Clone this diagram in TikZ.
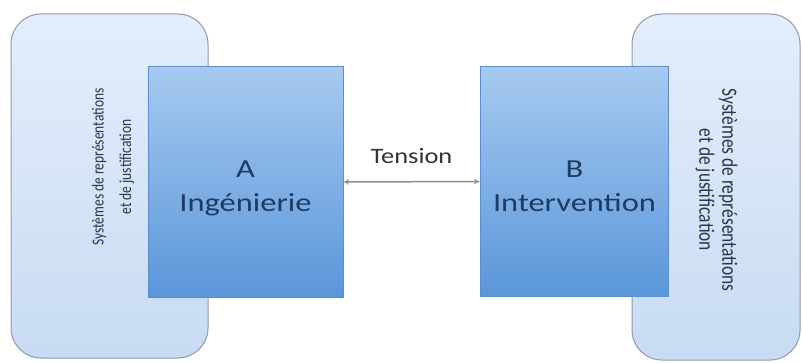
\documentclass[tikz,border=0pt]{standalone}
\usepackage{fontspec}
\setmainfont{Carlito}
\usetikzlibrary{arrows,calc}
\definecolor{systop}{HTML}{E4EEFB}
\definecolor{sysbottom}{HTML}{C8DBF3}
\definecolor{sysline}{HTML}{8C9BAE}
\definecolor{poletop}{HTML}{A6CAF1}
\definecolor{polebottom}{HTML}{5A96DA}
\definecolor{poleline}{HTML}{5A8ECF}
\definecolor{poleink}{HTML}{1E3B64}
\definecolor{sysink}{HTML}{2A3650}
\definecolor{arrowgrey}{HTML}{8E9096}
\begin{document}
\begin{tikzpicture}[x=1pt,y=-1pt,
    sysbox/.style={draw=sysline, line width=1pt, rounded corners=30pt, top color=systop, bottom color=sysbottom},
    polebox/.style={draw=poleline, line width=1pt, top color=poletop, bottom color=polebottom},
    poletext/.style={text=poleink, align=center, inner sep=0pt, xscale=1.25, font=\fontsize{26}{34}\selectfont},
    systext/.style={text=sysink, align=center, inner sep=0pt, xscale=1.25}]
    \fill[white] (0,0) rectangle (802,363);
    \useasboundingbox (0,0) rectangle (802,363);
    % cadres des systemes
    \node[sysbox, minimum width=197pt, minimum height=344pt] (SysA) at (109.5,186) {};
    \node[sysbox, minimum width=168pt, minimum height=346pt] (SysB) at (716,187) {};
    \node[systext, rotate=90, font=\fontsize{13.5}{22}\selectfont] (SysAtext) at (113,167) {Systèmes de représentations\\et de justification};
    \node[systext, rotate=-90, font=\fontsize{17.4}{18.4}\selectfont] (SysBtext) at (716.5,190) {Systèmes de représentations\\et de justification};
    % poles
    \node[polebox, minimum width=195pt, minimum height=230pt] (A) at (245.5,182) {};
    \node[polebox, minimum width=188pt, minimum height=229pt] (B) at (574,181.5) {};
    \node[poletext] (Atext) at ($(A.center)+(0,6)$) {A\\Ingénierie};
    \node[poletext] (Btext) at ($(B.center)+(0.5,4.5)$) {B\\Intervention};
    \draw[arrowgrey, line width=1.5pt, stealth-stealth] (A.east) -- (B.west)
        node[midway, above=17pt, inner sep=0pt, xscale=1.2, text=black!80, font=\fontsize{22}{26}\selectfont] (T) {Tension};
\end{tikzpicture}
\end{document}
